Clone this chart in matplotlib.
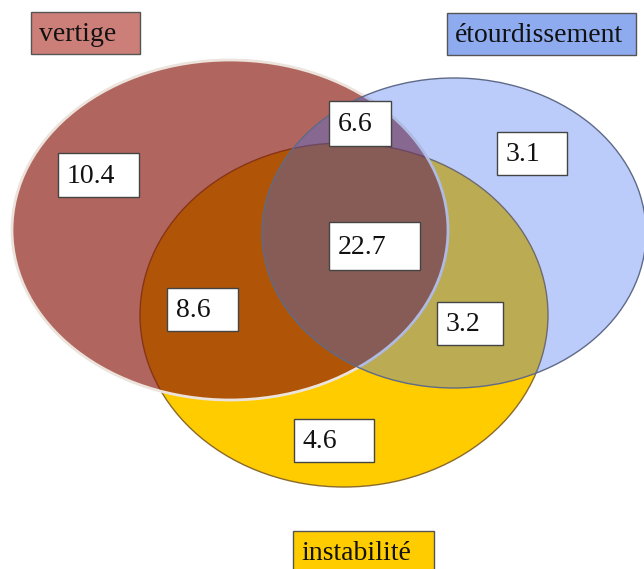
import matplotlib
matplotlib.use("Agg")
from matplotlib import pyplot as plt
from matplotlib.patches import Ellipse, Rectangle

# data
set_names = ["vertige", "étourdissement", "instabilité"]
regions = ["vertige seul", "vertige+étourdissement", "étourdissement seul",
           "les trois", "vertige+instabilité", "étourdissement+instabilité",
           "instabilité seule"]
values = [10.4, 6.6, 3.1, 22.7, 8.6, 3.2, 4.6]

# layout (pixel coords, y going down)
ell_pos = [(230, 230, 436, 340), (454, 233, 384, 310), (344, 315, 408, 344)]
ell_face = [(136/255, 24/255, 12/255, 0.663), (58/255, 108/255, 241/255, 0.34), "#ffcc00"]
ell_edge = ["#ece4dc", "#5f6a88", "#8a6a2a"]
ell_lw = [2.0, 1.0, 1.0]
ell_z = [2, 3, 1]

name_boxes = [(31, 12, 140, 54), (447, 13, 636, 55), (293, 531, 434, 575)]
name_fill = ["#cc7f79", "#8eabf0", "#ffcc00"]

val_boxes = [(58, 153, 139, 197), (329, 101, 391, 146), (497, 132, 567, 175),
             (329, 222, 420, 270), (167, 288, 238, 331), (437, 302, 503, 345),
             (294, 419, 374, 462)]

fig = plt.figure(figsize=(6.44, 5.69), dpi=100)
ax = fig.add_axes([0, 0, 1, 1])
ax.set_xlim(0, 644)
ax.set_ylim(569, 0)
ax.axis("off")

for i in range(3):
    cx, cy, w, h = ell_pos[i]
    ax.add_patch(Ellipse((cx, cy), w, h, facecolor=ell_face[i], edgecolor=ell_edge[i],
                         linewidth=ell_lw[i], zorder=ell_z[i]))

font = ["Liberation Serif", "DejaVu Serif"]

for i in range(3):
    x0, y0, x1, y1 = name_boxes[i]
    ax.add_patch(Rectangle((x0, y0), x1-x0, y1-y0, facecolor=name_fill[i],
                           edgecolor="#555555", linewidth=1, zorder=5))
    ax.text(x0+8, (y0+y1)/2+1, set_names[i], family=font, fontsize=20,
            ha="left", va="center", color="#111111", zorder=6)

for i in range(len(values)):
    x0, y0, x1, y1 = val_boxes[i]
    ax.add_patch(Rectangle((x0, y0), x1-x0, y1-y0, facecolor="white",
                           edgecolor="#444444", linewidth=1, zorder=5))
    ax.text(x0+9, (y0+y1)/2+1, "%.1f" % values[i], family=font, fontsize=20,
            ha="left", va="center", color="#111111", zorder=6)

fig.savefig("out.png", dpi=100)
